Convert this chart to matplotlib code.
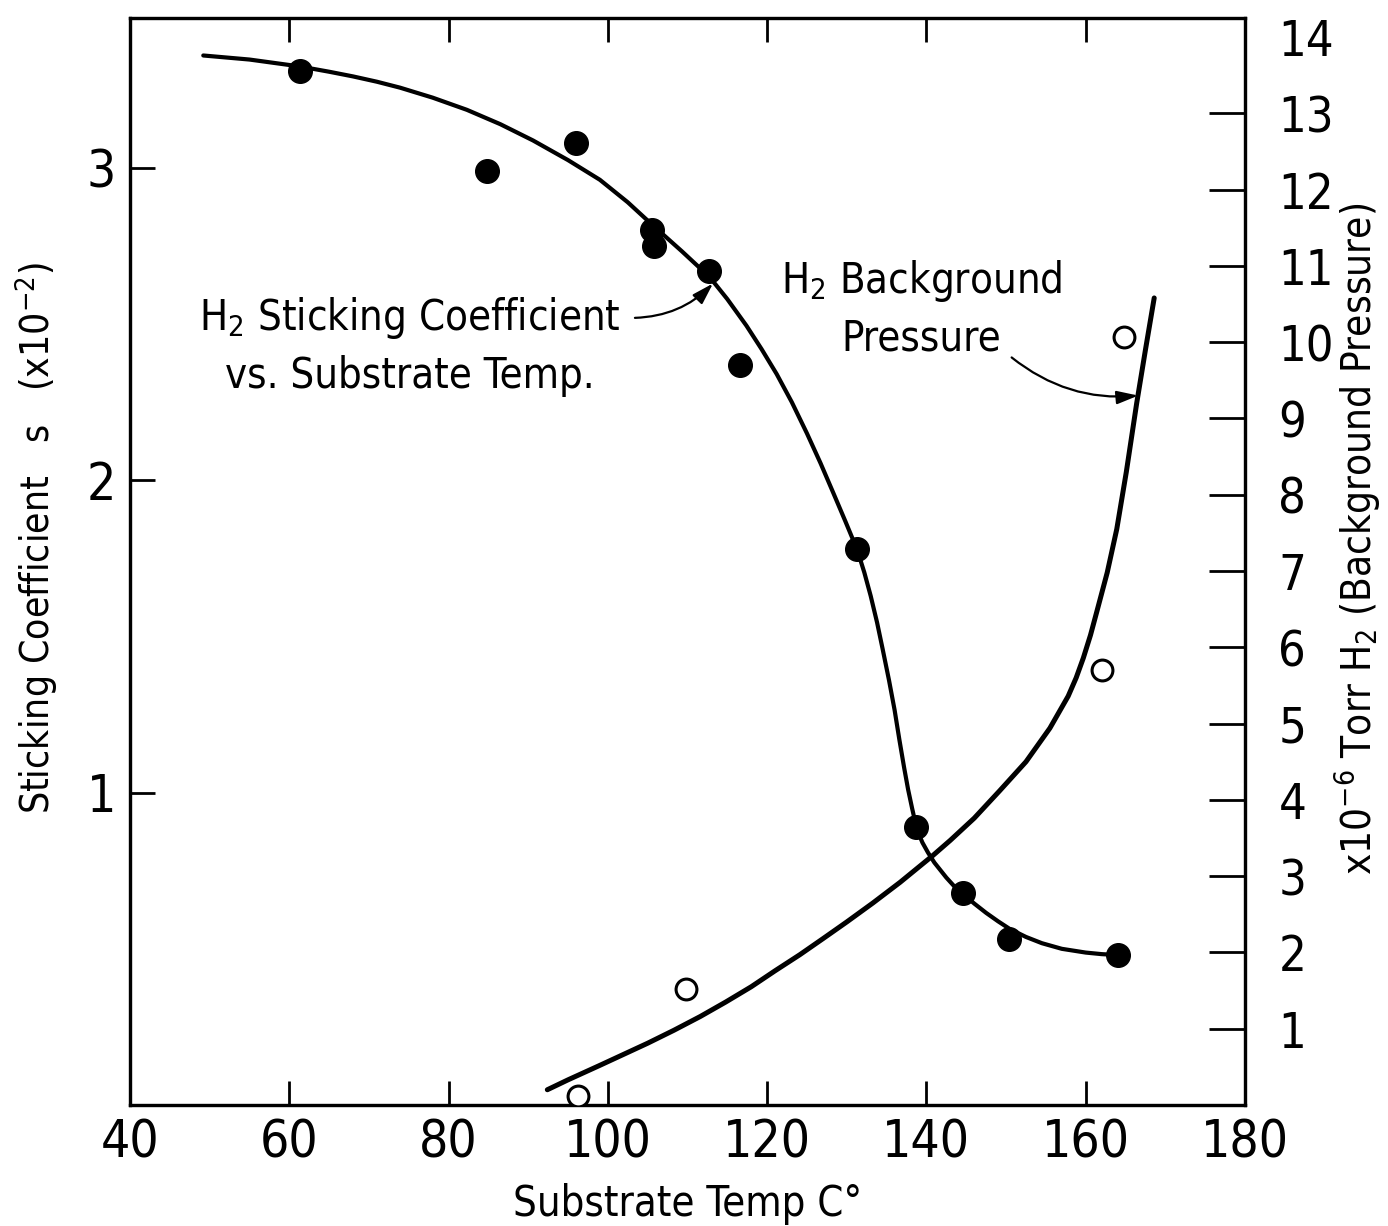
import matplotlib
matplotlib.use("Agg")
import matplotlib.pyplot as plt

plt.rcParams['font.family'] = ['DejaVu Sans']
plt.rcParams['font.stretch'] = 'condensed'
plt.rcParams['mathtext.fontset'] = 'custom'
plt.rcParams['mathtext.rm'] = 'DejaVu Sans'
plt.rcParams['mathtext.it'] = 'DejaVu Sans'
plt.rcParams['mathtext.default'] = 'rm'

# measured sticking coefficient (x10^-2) vs substrate temperature
temp_s = [61.3, 84.8, 96.0, 105.5, 105.8, 112.7, 116.6, 131.3, 138.7, 144.6, 150.4, 164.1]
stick = [3.31, 2.99, 3.08, 2.80, 2.75, 2.67, 2.37, 1.78, 0.89, 0.68, 0.53, 0.48]

# measured H2 background pressure (x10^-6 torr)
temp_p = [96.3, 109.8, 162.0, 164.8]
press = [0.12, 1.52, 5.70, 10.07]

# hand drawn curve through the sticking coefficient data
fit_s_t = [49.2, 55.0, 61.3, 65.0, 68.0, 71.0, 73.9, 78.0, 82.3, 86.5, 90.6, 95.0, 99.0,
           102.5, 105.7, 109.3, 112.8, 115.0, 117.4, 119.3, 121.2, 123.1, 125.0, 126.7,
           128.3, 129.8, 131.3, 132.2, 133.0, 133.8, 134.5, 135.3, 136.0, 136.6, 137.2,
           137.7, 138.2, 138.6, 139.0, 139.5, 140.2, 141.0, 142.5, 143.5, 144.6, 146.0,
           147.5, 149.0, 150.5, 152.5, 154.5, 157.0, 160.0, 162.0, 164.1]
fit_s = [3.360, 3.347, 3.325, 3.308, 3.293, 3.276, 3.257, 3.225, 3.186, 3.140, 3.088, 3.025,
         2.962, 2.890, 2.815, 2.733, 2.650, 2.580, 2.495, 2.420, 2.340, 2.250, 2.150, 2.055,
         1.960, 1.870, 1.778, 1.705, 1.630, 1.545, 1.460, 1.360, 1.265, 1.170, 1.080,
         1.010, 0.950, 0.905, 0.870, 0.840, 0.808, 0.776, 0.728, 0.700, 0.676, 0.645,
         0.615, 0.588, 0.563, 0.538, 0.518, 0.500, 0.488, 0.483, 0.480]

# hand drawn curve through the pressure data
fit_p_t = [92.4, 95.0, 99.0, 102.0, 105.0, 108.3, 111.6, 114.8, 118.0, 121.0, 124.1, 127.0,
           130.0, 133.3, 136.7, 140.8, 143.0, 146.0, 149.2, 152.5, 155.5, 157.8, 158.8,
           159.7, 160.6, 161.4, 162.7, 163.9, 165.1, 166.4, 167.5, 168.6]
fit_p = [0.20, 0.33, 0.52, 0.665, 0.81, 0.98, 1.16, 1.35, 1.55, 1.76, 1.97, 2.18,
         2.40, 2.65, 2.92, 3.27, 3.47, 3.76, 4.12, 4.50, 4.94, 5.36, 5.60,
         5.86, 6.16, 6.47, 6.98, 7.55, 8.30, 9.20, 9.90, 10.58]

x_ticks = [40, 60, 80, 100, 120, 140, 160, 180]
s_ticks = [1, 2, 3]
p_ticks = list(range(1, 15))


def main():
    fig = plt.figure(figsize=(13.88, 12.26), dpi=100)
    ax = fig.add_axes([130 / 1388, 1 - 1105 / 1226, 1115 / 1388, 1087 / 1226])
    ax2 = ax.twinx()

    ax.set_xlim(40, 180)
    ax.set_ylim(0, 3.48)
    ax2.set_ylim(0, 14.25)

    ax.plot(fit_s_t, fit_s, color='black', lw=3.0, solid_capstyle='round',
            solid_joinstyle='round', zorder=3)
    ax.plot(temp_s, stick, 'o', color='black', ms=17, zorder=4)

    ax2.plot(fit_p_t, fit_p, color='black', lw=3.6, solid_capstyle='round',
             solid_joinstyle='round', zorder=3)
    ax2.plot(temp_p, press, 'o', mfc='white', mec='black', mew=2.2, ms=15, zorder=4)

    for a in (ax, ax2):
        for sp in a.spines.values():
            sp.set_linewidth(2.3)

    ax.set_xticks(x_ticks)
    ax.set_xticklabels([str(t) for t in x_ticks])
    ax.set_yticks(s_ticks)
    ax.set_yticklabels([str(t) for t in s_ticks])
    ax.tick_params(axis='x', direction='in', length=17, width=2, top=True,
                   labelsize=37, pad=10)
    ax.tick_params(axis='y', direction='in', length=18, width=2, labelsize=37, pad=10)

    ax2.set_yticks(p_ticks)
    ax2.set_yticklabels([str(t) for t in p_ticks])
    ax2.tick_params(axis='y', direction='in', length=26, width=2, labelsize=35, pad=24)
    ax2.yaxis.get_major_ticks()[-1].tick2line.set_visible(False)

    ax.set_xlabel('Substrate Temp C°', fontsize=30)
    ax.xaxis.set_label_coords(0.5, -0.072)
    fig.text(0.026, 0.561, 'Sticking Coefficient   s   (x10$^{-2}$)', rotation=90,
             ha='center', va='center', fontsize=28)
    fig.text(0.978, 0.56, 'x10$^{-6}$ Torr H$_2$ (Background Pressure)', rotation=90,
             ha='center', va='center', fontsize=29)

    ax.text(75.1, 2.43, 'H$_2$ Sticking Coefficient\nvs. Substrate Temp.', fontsize=30,
            ha='center', va='center', multialignment='center', linespacing=1.4)
    ax.text(139.4, 2.55, 'H$_2$ Background\nPressure', fontsize=30,
            ha='center', va='center', multialignment='center', linespacing=1.4)

    arrow = dict(arrowstyle='-|>,head_length=0.65,head_width=0.2', color='black', lw=1.6,
                 shrinkA=0, shrinkB=0, mutation_scale=20, connectionstyle='arc3,rad=0.2')
    ax.annotate('', xy=(113.2, 2.63), xytext=(103.4, 2.52), arrowprops=arrow)
    ax2.annotate('', xy=(166.6, 9.3), xytext=(150.7, 9.8), arrowprops=arrow)

    plt.savefig('out.png', dpi=100)


if __name__ == '__main__':
    main()
